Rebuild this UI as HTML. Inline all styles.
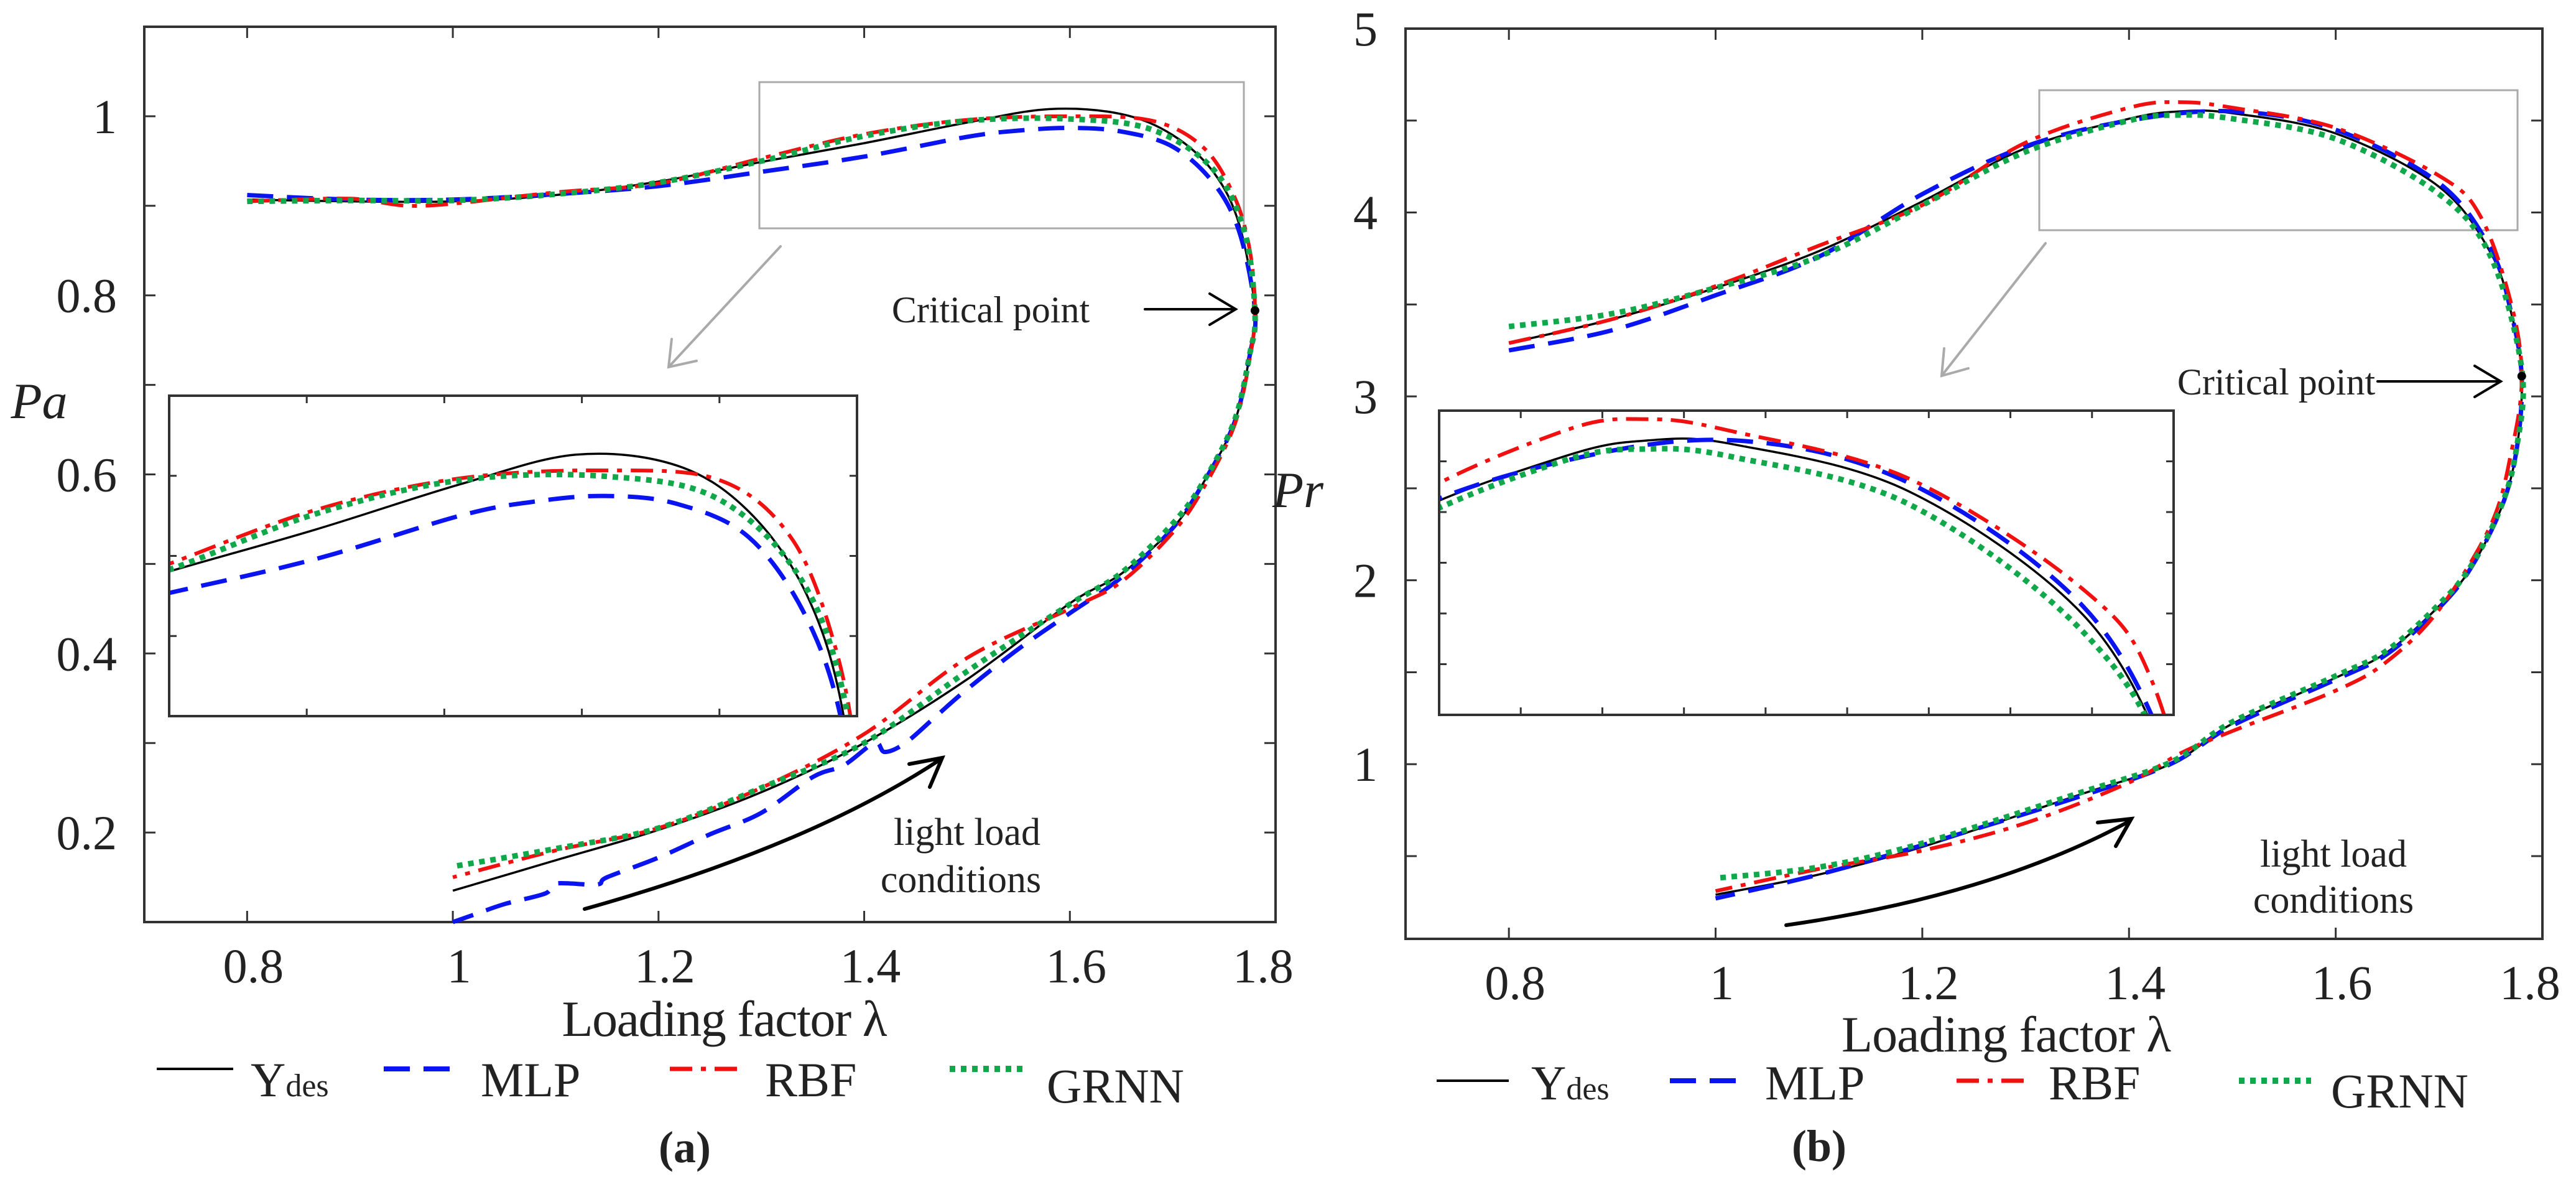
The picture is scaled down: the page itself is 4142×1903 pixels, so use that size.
<!DOCTYPE html>
<html><head><meta charset="utf-8"><style>
html,body{margin:0;padding:0;background:#fff;width:4142px;height:1903px;overflow:hidden;position:relative;}
svg{display:block;}
text{font-family:"Liberation Serif","Times New Roman",serif !important;}
</style></head><body>
<svg id="chart" width="4142" height="1903" viewBox="0 0 4142 1903" xmlns="http://www.w3.org/2000/svg" style="position:absolute;left:0;top:0">
<defs>
<clipPath id="clipA"><rect x="272" y="636" width="1106" height="515"/></clipPath>
<clipPath id="clipB"><rect x="2314" y="660" width="1181" height="489"/></clipPath>
</defs>
<g id="root"></g>
</svg>
<script>
// ---- data: panel (a) Pa ----
const lamA_ydes=[0.8,0.9,1.0,1.1,1.2,1.3,1.4,1.5,1.58,1.65,1.7,1.74,1.765,1.78,1.775,1.76,1.73,1.7,1.65,1.6,1.5,1.4,1.3,1.2,1.1,1.0];
const paA_ydes=[0.907,0.905,0.905,0.912,0.927,0.949,0.97,0.993,1.008,1.0025,0.979,0.937,0.878,0.783,0.734,0.658,0.591,0.54,0.489,0.456,0.371,0.3,0.245,0.203,0.169,0.135];
const lamA_mlp=[0.8,0.9,1.0,1.1,1.2,1.3,1.4,1.5,1.55,1.6,1.65,1.7,1.74,1.765,1.78,1.775,1.76,1.73,1.7,1.65,1.6,1.55,1.5,1.47,1.44,1.42,1.41,1.38,1.35,1.3,1.25,1.2,1.15,1.14,1.1,1.09,1.05,1.02,1.0];
const paA_mlp=[0.912,0.907,0.907,0.913,0.922,0.938,0.955,0.977,0.984,0.987,0.983,0.966,0.925,0.87,0.783,0.734,0.658,0.591,0.54,0.485,0.445,0.405,0.36,0.33,0.3,0.29,0.3,0.275,0.262,0.222,0.198,0.172,0.15,0.142,0.143,0.132,0.12,0.108,0.1];
const lamA_rbf=[0.8,0.9,0.97,1.1,1.2,1.3,1.4,1.5,1.6,1.68,1.73,1.76,1.775,1.78,1.775,1.76,1.73,1.7,1.65,1.6,1.5,1.4,1.3,1.2,1.1,1.0];
const paA_rbf=[0.905,0.908,0.9,0.915,0.925,0.953,0.98,0.996,1.0,0.995,0.965,0.91,0.85,0.783,0.73,0.655,0.585,0.535,0.48,0.45,0.395,0.31,0.25,0.205,0.18,0.15];
const lamA_grnn=[0.8,0.9,1.0,1.1,1.2,1.3,1.4,1.5,1.6,1.68,1.74,1.77,1.78,1.775,1.76,1.73,1.7,1.65,1.6,1.5,1.4,1.3,1.2,1.1,1.0];
const paA_grnn=[0.905,0.906,0.906,0.913,0.926,0.95,0.978,0.995,0.997,0.985,0.94,0.87,0.78,0.735,0.66,0.592,0.545,0.49,0.455,0.38,0.3,0.25,0.205,0.182,0.162];
// ---- data: panel (b) Pr ----
const lamB_ydes=[0.8,0.9,1.0,1.1,1.2,1.3,1.4,1.45,1.5,1.6,1.7,1.75,1.77,1.78,1.775,1.76,1.73,1.7,1.65,1.6,1.5,1.44,1.35,1.2,1.1,1.0];
const prB_ydes=[3.29,3.42,3.59,3.79,4.06,4.35,4.51,4.55,4.54,4.43,4.14,3.78,3.45,3.11,2.71,2.39,2.06,1.86,1.61,1.47,1.22,1.0,0.83,0.55,0.4,0.29];
const lamB_mlp=[0.8,0.9,1.0,1.1,1.2,1.3,1.4,1.5,1.6,1.7,1.75,1.77,1.78,1.775,1.76,1.73,1.7,1.65,1.6,1.5,1.44,1.35,1.2,1.1,1.0];
const prB_mlp=[3.25,3.36,3.55,3.76,4.1,4.36,4.5,4.55,4.45,4.16,3.8,3.45,3.1,2.71,2.39,2.06,1.85,1.6,1.46,1.21,1.0,0.82,0.56,0.4,0.27];
const lamB_rbf=[0.8,0.9,1.0,1.1,1.2,1.3,1.4,1.45,1.5,1.6,1.7,1.74,1.77,1.78,1.77,1.75,1.7,1.65,1.6,1.5,1.45,1.4,1.3,1.2,1.1,1.0];
const prB_rbf=[3.29,3.42,3.6,3.82,4.04,4.38,4.57,4.6,4.57,4.46,4.2,3.98,3.5,3.1,2.7,2.3,1.84,1.56,1.4,1.18,1.06,0.9,0.68,0.53,0.43,0.31];
const lamB_grnn=[0.8,0.9,1.0,1.1,1.2,1.3,1.4,1.45,1.5,1.6,1.7,1.75,1.78,1.775,1.76,1.73,1.7,1.65,1.6,1.5,1.44,1.35,1.2,1.1,1.0];
const prB_grnn=[3.38,3.45,3.59,3.76,4.04,4.33,4.5,4.53,4.51,4.4,4.1,3.76,3.15,2.72,2.4,2.07,1.87,1.62,1.48,1.23,1.01,0.84,0.57,0.44,0.38];
// ---- tick labels ----
const xTickLabels=["0.8","1","1.2","1.4","1.6","1.8"];
const xTickVals=[0.8,1.0,1.2,1.4,1.6,1.8];
const yTickValsA=[0.2,0.4,0.6,0.8,1.0];
const yTickLabelsA=["0.2","0.4","0.6","0.8","1"];
const yTickValsB=[1,2,3,4,5];
const yTickLabelsB=["1","2","3","4","5"];

const NS="http://www.w3.org/2000/svg";
const root=document.getElementById('root');
function mk(tag,attrs,parent){const e=document.createElementNS(NS,tag);for(const k in attrs)e.setAttribute(k,attrs[k]);(parent||root).appendChild(e);return e;}
function scale(d0,d1,p0,p1){return v=>p0+(v-d0)/(d1-d0)*(p1-p0);}
function smoothPath(pts){
  let d="M"+pts[0][0].toFixed(1)+","+pts[0][1].toFixed(1);
  for(let i=0;i<pts.length-1;i++){
    const p0=pts[Math.max(0,i-1)],p1=pts[i],p2=pts[i+1],p3=pts[Math.min(pts.length-1,i+2)];
    const c1=[p1[0]+(p2[0]-p0[0])/6,p1[1]+(p2[1]-p0[1])/6];
    const c2=[p2[0]-(p3[0]-p1[0])/6,p2[1]-(p3[1]-p1[1])/6];
    d+=" C"+c1[0].toFixed(1)+","+c1[1].toFixed(1)+" "+c2[0].toFixed(1)+","+c2[1].toFixed(1)+" "+p2[0].toFixed(1)+","+p2[1].toFixed(1);
  }
  return d;
}
const styles={
  Ydes:{stroke:"#000",w:3.5,dash:null},
  MLP:{stroke:"#0a14f0",w:7,dash:"42,22"},
  RBF:{stroke:"#f01010",w:6,dash:"36,14,8,14"},
  GRNN:{stroke:"#10a84a",w:9,dash:"9,9"}
};
function drawSeries(g,lam,val,sx,sy,name,tag){
  const st=styles[name];
  const pts=lam.map((l,i)=>[sx(l),sy(val[i])]);
  const p=mk('path',{d:smoothPath(pts),fill:"none",stroke:st.stroke,"stroke-width":st.w,"stroke-linejoin":"round"},g);
  if(st.dash)p.setAttribute('stroke-dasharray',st.dash);
  
  
}
function panel(cfg){
  const g=mk('g',{});
  
  
  const sx=scale(0.7,1.8,cfg.px0,cfg.px1), sy=scale(cfg.y0,cfg.y1,cfg.py0,cfg.py1);
  const tl=18;
  for(let v=0.8;v<=1.8001;v+=0.2){const x=sx(v);
    mk('line',{x1:x,y1:cfg.py1,x2:x,y2:cfg.py1+tl,stroke:"#333","stroke-width":3},g);
    mk('line',{x1:x,y1:cfg.py0,x2:x,y2:cfg.py0-tl,stroke:"#333","stroke-width":3},g);}
  for(let v=cfg.minorStart;v<=cfg.y1+1e-6;v+=cfg.minorStep){const y=sy(v);
    mk('line',{x1:cfg.px0,y1:y,x2:cfg.px0+tl,y2:y,stroke:"#333","stroke-width":3},g);
    mk('line',{x1:cfg.px1,y1:y,x2:cfg.px1-tl,y2:y,stroke:"#333","stroke-width":3},g);}
  const ax=mk('rect',{x:cfg.px0,y:cfg.py1,width:cfg.px1-cfg.px0,height:cfg.py0-cfg.py1,fill:"none",stroke:"#333","stroke-width":4},g);
  
  
  xTickVals.forEach((v,i)=>{const off=(i===xTickVals.length-1)?-20:10;
    const t=mk('text',{x:sx(v)+off,y:cfg.py0+97,"font-size":78,"text-anchor":"middle",fill:"#222"},g);t.textContent=xTickLabels[i];
    });
  cfg.yv.forEach((v,i)=>{const t=mk('text',{x:cfg.ylx,y:sy(v)+27,"font-size":78,"text-anchor":"end",fill:"#222"},g);t.textContent=cfg.yl[i];
    });
  const zr=cfg.zoom;
  const zrect=mk('rect',{x:cfg.zbox[0],y:cfg.zbox[1],width:cfg.zbox[2],height:cfg.zbox[3],fill:"none",stroke:"#aaa","stroke-width":3},g);
  
  cfg.series.forEach(s=>drawSeries(g,s[0],s[1],sx,sy,s[2],cfg.id));
  const ib=cfg.inset;
  const ig=mk('g',{},g);
  
  mk('rect',{x:ib.x,y:ib.y,width:ib.w,height:ib.h,fill:"#fff"},ig);
  const isx=scale(zr.l0,zr.l1,ib.x,ib.x+ib.w), isy=scale(zr.v0,zr.v1,ib.y+ib.h,ib.y);
  const cg=mk('g',{"clip-path":"url(#"+ib.clip+")"},ig);
  cfg.series.forEach(s=>drawSeries(cg,s[0],s[1],isx,isy,s[2],cfg.id+'-inset'));
  for(let i=1;i<=ib.nx;i++){const x=ib.x+ib.w*i/(ib.nx+1);
    mk('line',{x1:x,y1:ib.y,x2:x,y2:ib.y+12,stroke:"#333","stroke-width":3},ig);
    mk('line',{x1:x,y1:ib.y+ib.h,x2:x,y2:ib.y+ib.h-12,stroke:"#333","stroke-width":3},ig);}
  for(let i=1;i<=ib.ny;i++){const y=ib.y+ib.h*i/(ib.ny+1);
    mk('line',{x1:ib.x,y1:y,x2:ib.x+12,y2:y,stroke:"#333","stroke-width":3},ig);
    mk('line',{x1:ib.x+ib.w,y1:y,x2:ib.x+ib.w-12,y2:y,stroke:"#333","stroke-width":3},ig);}
  mk('rect',{x:ib.x,y:ib.y,width:ib.w,height:ib.h,fill:"none",stroke:"#333","stroke-width":4},ig);
  const cp=mk('circle',{cx:sx(cfg.crit[0]),cy:sy(cfg.crit[1]),r:7,fill:"#000"},g);
  
}
panel({id:"panel-a",px0:232,px1:2051,py0:1482,py1:43,y0:0.1,y1:1.1,minorStart:0.2,minorStep:0.1,
  yv:yTickValsA,yl:yTickLabelsA,ylx:188,
  zoom:{l0:1.298,l1:1.775,v0:0.875,v1:1.038},
  zbox:[1221,132,779,235],
  inset:{x:272,y:636,w:1106,h:515,clip:"clipA",nx:4,ny:3},
  crit:[1.78,0.783],
  series:[[lamA_ydes,paA_ydes,"Ydes"],[lamA_mlp,paA_mlp,"MLP"],[lamA_rbf,paA_rbf,"RBF"],[lamA_grnn,paA_grnn,"GRNN"]]});
panel({id:"panel-b",px0:2260,px1:4088,py0:1509,py1:46,y0:0.05,y1:5,minorStart:0.5,minorStep:0.5,
  yv:yTickValsB,yl:yTickLabelsB,ylx:2215,
  zoom:{l0:1.33,l1:1.752,v0:3.905,v1:4.62},
  zbox:[3279,145,769,225],
  inset:{x:2314,y:660,w:1181,h:489,clip:"clipB",nx:8,ny:5},
  crit:[1.78,3.11],
  series:[[lamB_ydes,prB_ydes,"Ydes"],[lamB_mlp,prB_mlp,"MLP"],[lamB_rbf,prB_rbf,"RBF"],[lamB_grnn,prB_grnn,"GRNN"]]});
</script>
<svg style="position:absolute;left:0;top:0" width="4142" height="1903" viewBox="0 0 4142 1903" xmlns="http://www.w3.org/2000/svg">
<g fill="#222">
<text x="63" y="672" font-size="82" font-style="italic" text-anchor="middle">Pa</text>
<text x="2087" y="815" font-size="82" font-style="italic" text-anchor="middle">Pr</text>
<text x="1165" y="1665" font-size="82" text-anchor="middle" textLength="523">Loading factor λ</text>
<text x="3226" y="1690" font-size="82" text-anchor="middle" textLength="530">Loading factor λ</text>
<text x="1593" y="518" font-size="60" text-anchor="middle">Critical point</text>
<text x="3660" y="634" font-size="60" text-anchor="middle">Critical point</text>
<text x="1555" y="1358" font-size="62" text-anchor="middle">light load</text>
<text x="1545" y="1434" font-size="62" text-anchor="middle">conditions</text>
<text x="3752" y="1393" font-size="62" text-anchor="middle">light load</text>
<text x="3752" y="1467" font-size="62" text-anchor="middle">conditions</text>
<text x="1101" y="1868" font-size="72" font-weight="bold" text-anchor="middle">(a)</text>
<text x="2925" y="1866" font-size="72" font-weight="bold" text-anchor="middle">(b)</text>
</g>
<g fill="none" stroke-linecap="round">
<path d="M1841 497 L1987 497 M1945 472 L1987 497 L1945 522" stroke="#000" stroke-width="4"/>
<path d="M3823 613 L4021 613 M3979 588 L4021 613 L3979 638" stroke="#000" stroke-width="4"/>
<path d="M940 1461 Q1300 1360 1510 1222 M1462 1228 L1515 1218 L1495 1265" stroke="#000" stroke-width="6"/>
<path d="M2872 1487 Q3200 1440 3420 1322 M3373 1322 L3427 1316 L3402 1360" stroke="#000" stroke-width="6"/>
<path d="M1255 396 L1075 590 M1080 545 L1075 590 L1120 580" stroke="#aaa" stroke-width="4"/>
<path d="M3289 391 L3122 604 M3126 560 L3122 604 L3165 592" stroke="#aaa" stroke-width="4"/>
</g>
<g>
<line x1="252" y1="1718" x2="375" y2="1718" stroke="#000" stroke-width="4"/>
<text x="403" y="1762" font-size="78" fill="#222">Y<tspan font-size="52">des</tspan></text>
<line x1="617" y1="1718" x2="740" y2="1718" stroke="#0a14f0" stroke-width="8" stroke-dasharray="42,22"/>
<text x="773" y="1762" font-size="78" fill="#222">MLP</text>
<line x1="1077" y1="1718" x2="1196" y2="1718" stroke="#f01010" stroke-width="7" stroke-dasharray="36,14,8,14"/>
<text x="1230" y="1762" font-size="78" fill="#222">RBF</text>
<line x1="1527" y1="1718" x2="1650" y2="1718" stroke="#10a84a" stroke-width="10" stroke-dasharray="9,9"/>
<text x="1683" y="1772" font-size="78" fill="#222">GRNN</text>
</g>
<g>
<line x1="2310" y1="1737" x2="2426" y2="1737" stroke="#000" stroke-width="4"/>
<text x="2462" y="1767" font-size="78" fill="#222">Y<tspan font-size="52">des</tspan></text>
<line x1="2685" y1="1737" x2="2808" y2="1737" stroke="#0a14f0" stroke-width="8" stroke-dasharray="42,22"/>
<text x="2838" y="1767" font-size="78" fill="#222">MLP</text>
<line x1="3146" y1="1737" x2="3262" y2="1737" stroke="#f01010" stroke-width="7" stroke-dasharray="36,14,8,14"/>
<text x="3294" y="1767" font-size="78" fill="#222">RBF</text>
<line x1="3600" y1="1737" x2="3716" y2="1737" stroke="#10a84a" stroke-width="10" stroke-dasharray="9,9"/>
<text x="3748" y="1780" font-size="78" fill="#222">GRNN</text>
</g>
</svg>
</body></html>
